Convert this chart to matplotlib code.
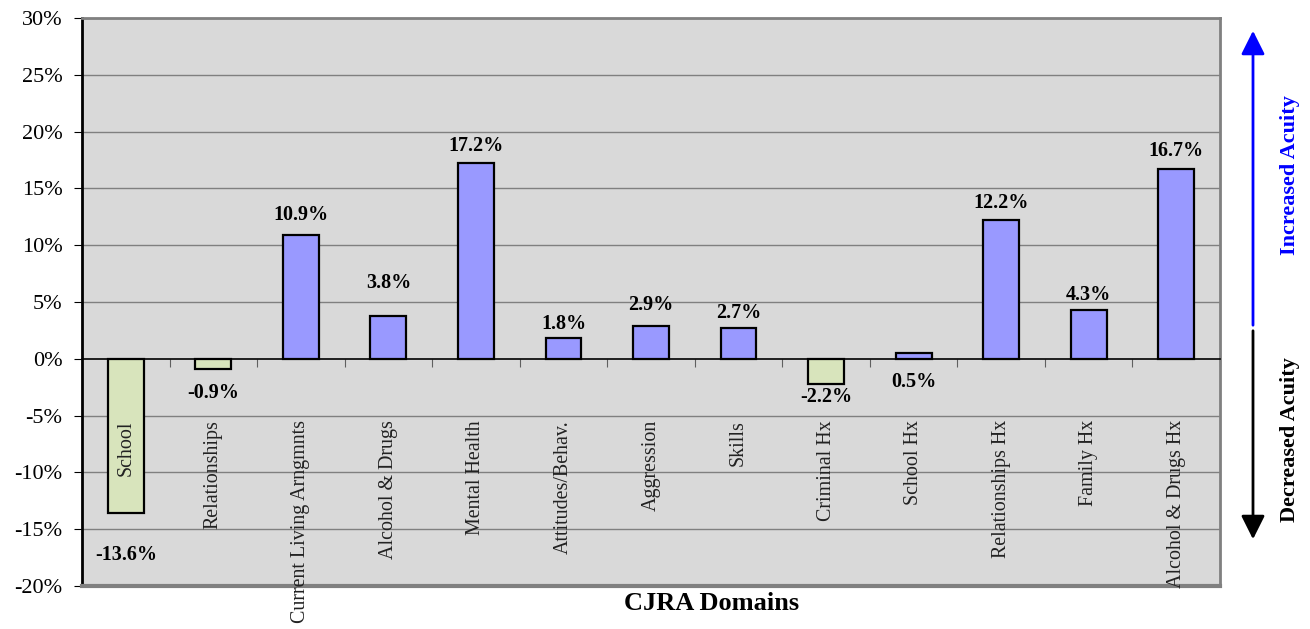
import matplotlib.pyplot as plt
import numpy as np

# CJRA domains and change in acuity (percent)
categories = ['School', 'Relationships', 'Current Living Arngmnts', 'Alcohol & Drugs',
              'Mental Health', 'Attitudes/Behav.', 'Aggression', 'Skills', 'Criminal Hx',
              'School Hx', 'Relationships Hx', 'Family Hx', 'Alcohol & Drugs Hx']
changes = [-13.6, -0.9, 10.9, 3.8, 17.2, 1.8, 2.9, 2.7, -2.2, 0.5, 12.2, 4.3, 16.7]
value_labels = ['-13.6%', '-0.9%', '10.9%', '3.8%', '17.2%', '1.8%', '2.9%', '2.7%',
                '-2.2%', '0.5%', '12.2%', '4.3%', '16.7%']
yticks = [-20, -15, -10, -5, 0, 5, 10, 15, 20, 25, 30]

# where each value label sits (data units), as in the original chart
label_y = [-17.25, -3.0, 12.7, 6.7, 18.7, 3.1, 4.7, 4.05, -3.35, -2.0, 13.7, 5.6, 18.3]

plt.rcParams['font.family'] = ['Liberation Serif', 'DejaVu Serif']

fig = plt.figure(figsize=(13.1, 6.29), dpi=100)
ax = fig.add_axes([82/1310, 1-586/629, (1220-82)/1310, (586-18)/629])
ax.set_facecolor('#d9d9d9')

x = np.arange(len(categories))
colors = ['#9999ff' if v >= 0 else '#d8e4bc' for v in changes]
ax.bar(x, changes, width=0.41, color=colors, edgecolor='black', linewidth=1.6, zorder=3)

ax.set_xlim(-0.5, len(categories) - 0.5)
ax.set_ylim(-20, 30)
ax.set_yticks(yticks)
ax.set_yticklabels(['%d%%' % t for t in yticks], fontsize=16)
for t in yticks:
    if t != 0:
        ax.axhline(t, color='#808080', linewidth=1, zorder=1)

# zero line carries the category tick marks
ax.spines['bottom'].set_position(('data', 0))
ax.spines['bottom'].set_color('black')
ax.spines['bottom'].set_linewidth(1.2)
ax.spines['bottom'].set_zorder(4)
ax.set_xticks(np.arange(len(categories)) + 0.5)
ax.set_xticklabels([])
ax.tick_params(axis='x', direction='out', length=6, color='#606060')
ax.tick_params(axis='y', direction='out', length=6, pad=8)

ax.spines['left'].set_linewidth(2)
ax.spines['left'].set_color('black')
for s in ['top', 'right']:
    ax.spines[s].set_color('#808080')
    ax.spines[s].set_linewidth(2)
ax.axhline(-20, color='#808080', linewidth=3, clip_on=False, zorder=5)

for i, name in enumerate(categories):
    ax.text(i, -5.4, name, rotation=90, ha='center', va='top', fontsize=14.4,
            color='#222222', clip_on=False, zorder=6)
    ax.text(i, label_y[i], value_labels[i], ha='center', va='center',
            fontsize=14.5, fontweight='bold', zorder=6)

fig.text(712/1310, 1-603/629, 'CJRA Domains', ha='center', va='center',
         fontsize=19, fontweight='bold')

# acuity direction arrows
ax_x = 1253/1310
fig.patches.append(plt.matplotlib.patches.FancyArrowPatch(
    (ax_x, 1-328/629), (ax_x, 1-28/629), transform=fig.transFigure,
    arrowstyle='-|>,head_length=0.6,head_width=0.3', mutation_scale=24,
    color='blue', linewidth=2))
fig.patches.append(plt.matplotlib.patches.FancyArrowPatch(
    (ax_x, 1-328/629), (ax_x, 1-542/629), transform=fig.transFigure,
    arrowstyle='-|>,head_length=0.6,head_width=0.3', mutation_scale=24,
    color='black', linewidth=2))
fig.text(1290/1310, 1-175/629, 'Increased Acuity', rotation=90, ha='center',
         va='center', fontsize=16, fontweight='bold', color='blue')
fig.text(1290/1310, 1-440/629, 'Decreased Acuity', rotation=90, ha='center',
         va='center', fontsize=16, fontweight='bold', color='black')

fig.savefig('out.png', dpi=100)
